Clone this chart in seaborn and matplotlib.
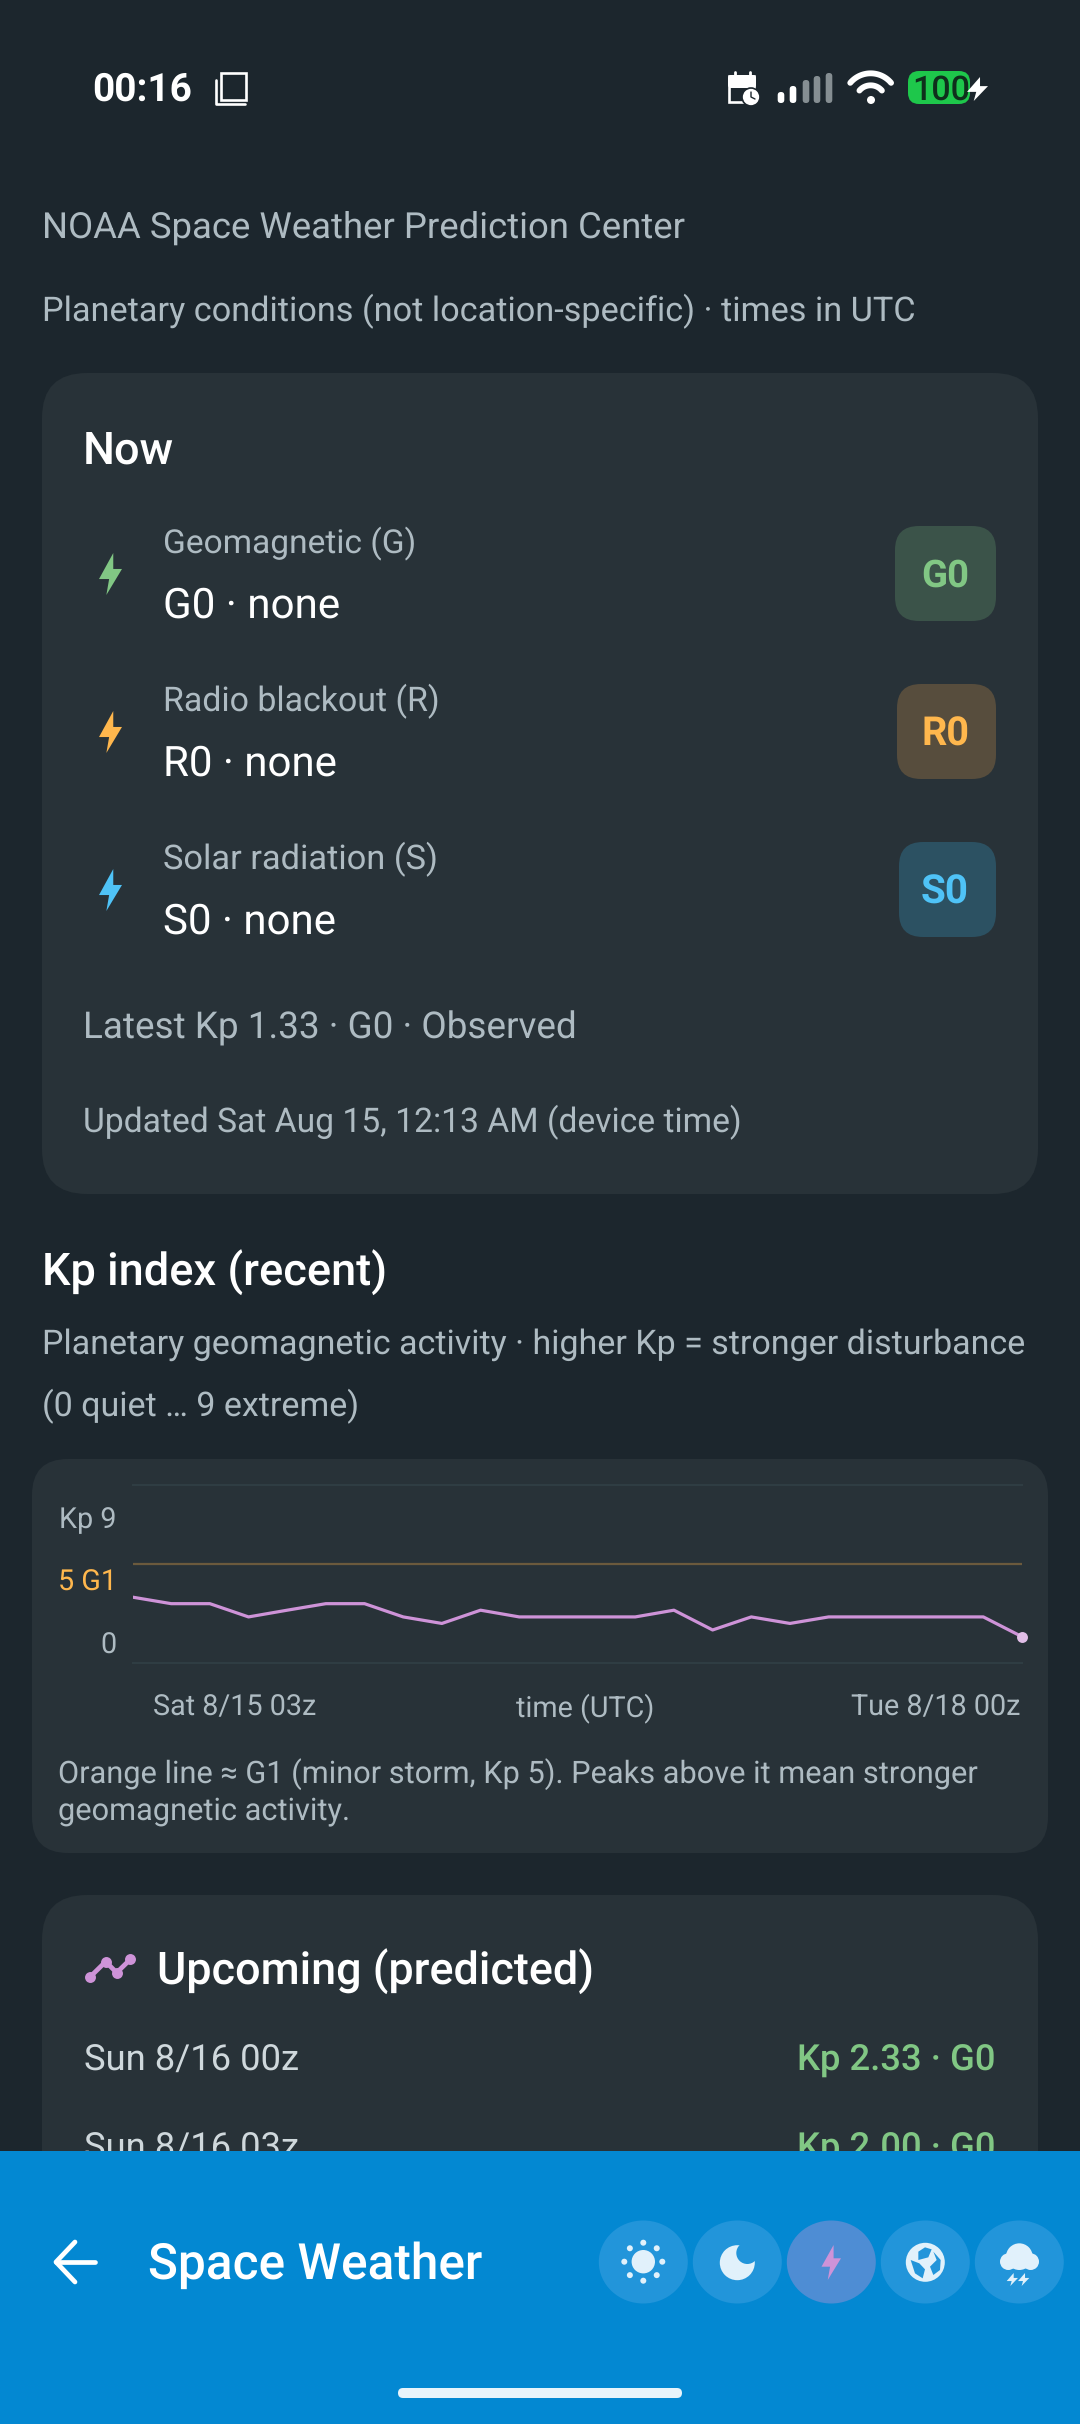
import numpy as np
import pandas as pd
import matplotlib
matplotlib.use("Agg")
import matplotlib.pyplot as plt
import matplotlib.dates as mdates
from matplotlib.patches import FancyBboxPatch, Circle, Ellipse, Polygon, Rectangle
import seaborn as sns

# ---- data ----
kp_times = ["2026-08-15 03:00", "2026-08-15 06:00", "2026-08-15 09:00", "2026-08-15 12:00",
            "2026-08-15 15:00", "2026-08-15 18:00", "2026-08-15 21:00", "2026-08-16 00:00",
            "2026-08-16 03:00", "2026-08-16 06:00", "2026-08-16 09:00", "2026-08-16 12:00",
            "2026-08-16 15:00", "2026-08-16 18:00", "2026-08-16 21:00", "2026-08-17 00:00",
            "2026-08-17 03:00", "2026-08-17 06:00", "2026-08-17 09:00", "2026-08-17 12:00",
            "2026-08-17 15:00", "2026-08-17 18:00", "2026-08-17 21:00", "2026-08-18 00:00"]
kp_values = [3.33, 3.00, 3.00, 2.33, 2.67, 3.00, 3.00, 2.33, 2.00, 2.67, 2.33, 2.33,
             2.33, 2.33, 2.67, 1.67, 2.33, 2.00, 2.33, 2.33, 2.33, 2.33, 2.33, 1.33]
g1_threshold = 5
y_tick_labels = ["0", "5 G1", "Kp 9"]
x_tick_labels = ["Sat 8/15 03z", "time (UTC)", "Tue 8/18 00z"]
scale_rows = ["Geomagnetic (G)", "Radio blackout (R)", "Solar radiation (S)"]
scale_values = ["G0 · none", "R0 · none", "S0 · none"]
scale_badges = ["G0", "R0", "S0"]
upcoming_times = ["Sun 8/16 00z", "Sun 8/16 03z"]
upcoming_values = ["Kp 2.33 · G0", "Kp 2.00 · G0"]

# ---- colours ----
BG = "#1c262d"; CARD = "#283238"; GRID = "#2f3d43"
SEC = "#aebbc2"; WHITE = "#ffffff"
GREEN = "#81c784"; ORANGE = "#ffb74d"; BLUE = "#4fc3f7"; PURPLE = "#ce93d8"
BAR = "#0388d2"; CHIP = "#2295da"; CHIP_ON = "#4e8dd4"; PALE = "#e1f1fb"

sns.set_theme(style="dark")
plt.rcParams["font.family"] = ["Roboto", "DejaVu Sans"]
plt.rcParams["text.hinting"] = "no_hinting"
plt.rcParams["text.hinting_factor"] = 8

fig = plt.figure(figsize=(10.8, 24.24), dpi=100, facecolor=BG)
ui = fig.add_axes([0, 0, 1, 1], zorder=1)
ui.set_xlim(0, 1080); ui.set_ylim(2424, 0); ui.axis("off")
renderer = fig.canvas.get_renderer()


def fit_px(s, width, weight="normal"):
    """Font size in pixels that makes s as wide as width when it is drawn."""
    pt = 24.0
    t = ui.text(0, 0, s, fontsize=pt, weight=weight)
    for _ in range(4):
        pt *= width / t.get_window_extent(renderer).width
        t.set_fontsize(pt)
    t.remove()
    return pt / 0.72


def T(xl, xr, yc, s, color=SEC, weight="normal", zorder=5):
    px = fit_px(s, xr - xl + 3, weight)
    ui.text(xl - 1, yc - 0.5 + 0.355 * px, s, color=color, fontsize=px * 0.72, weight=weight,
            ha="left", va="baseline", zorder=zorder)


def rrect(x0, y0, x1, y1, r, color, zorder=2):
    ui.add_patch(FancyBboxPatch((x0, y0), x1 - x0, y1 - y0, boxstyle=f"round,pad=0,rounding_size={r}",
                                fc=color, ec="none", zorder=zorder))


BOLT = np.array([(0.62, 0), (0, 0.62), (0.44, 0.62), (0.32, 1), (1, 0.38), (0.62, 0.38)])


def bolt(x0, y0, x1, y1, color, zorder=6):
    ui.add_patch(Polygon(BOLT * [x1 - x0, y1 - y0] + [x0, y0], closed=True, fc=color, ec="none", zorder=zorder))


# ---- status bar ----
T(93, 190, 87, "00:16", WHITE, "bold")
ui.add_patch(Rectangle((221, 73), 25, 27, fc="none", ec=WHITE, lw=1.9, zorder=5))
ui.plot([216, 216, 245], [80, 104, 104], color=WHITE, lw=1.9, zorder=5)

# calendar
rrect(728, 75, 756, 88, 3, WHITE, 5)
ui.add_patch(Rectangle((729, 76), 25, 26, fc="none", ec=WHITE, lw=1.9, zorder=5))
for xp in (735, 750):
    ui.plot([xp, xp], [72, 77], color=WHITE, lw=2.0, zorder=5)
ui.add_patch(Circle((751, 97), 9, fc=WHITE, ec=BG, lw=1.2, zorder=6))
ui.plot([751, 751, 755], [92, 97, 99], color=BG, lw=1.0, zorder=7)

# signal
for xc, top, col in zip((781, 793, 806, 817, 829), (92, 86, 80, 76, 73),
                        (WHITE, WHITE, "#858e92", "#858e92", "#858e92")):
    rrect(xc - 3.3, top, xc + 3.3, 103, 3.2, col, 5)

# wifi
for r in (80, 44):
    th = np.radians(np.linspace(40, 140, 40))
    ui.plot(710 + (482 + r * np.cos(th)) / 3, 60 + (120 - r * np.sin(th)) / 3, color=WHITE, lw=4.2,
            solid_capstyle="round", zorder=5)
ui.add_patch(Circle((871, 100), 4, fc=WHITE, ec="none", zorder=5))

# battery
rrect(908, 71, 970, 104, 11, "#1ec74b", 5)
T(913, 968, 88.5, "100", "#0f2f1c", 500, 6)
bolt(967, 77, 988, 101, WHITE)

# ---- header ----
T(43, 683, 225, "NOAA Space Weather Prediction Center")
T(43, 914, 310, "Planetary conditions (not location-specific) · times in UTC")

# ---- now card ----
rrect(42, 373, 1038, 1194, 45, CARD)
T(84, 172, 448, "Now", WHITE, 500)
row_colors = [GREEN, ORANGE, BLUE]
badge_fill = ["#3b5349", "#574d3d", "#2c5162"]
row_right = [414, 438, 436]
val_right = [338, 335, 334]
badge_left = [895, 897, 899]
for i, yo in enumerate((0, 158, 316)):
    T(164, row_right[i], 542 + yo, scale_rows[i])
    T(164, val_right[i], 603.5 + yo, scale_values[i], WHITE)
    bolt(99, 553 + yo, 122, 595 + yo, row_colors[i])
    rrect(badge_left[i], 526 + yo, 996, 621 + yo, 24, badge_fill[i], 3)
    T(922, 967, 574 + yo, scale_badges[i], row_colors[i], "bold")
T(84, 575, 1026, "Latest Kp 1.33 · G0 · Observed")
T(84, 740, 1121, "Updated Sat Aug 15, 12:13 AM (device time)")

# ---- Kp section ----
T(43, 385, 1270, "Kp index (recent)", WHITE, 500)
T(43, 1023, 1342, "Planetary geomagnetic activity · higher Kp = stronger disturbance")
T(43, 357, 1405, "(0 quiet … 9 extreme)")
rrect(32, 1459, 1048, 1853, 36, CARD)
T(59, 977, 1772, "Orange line ≈ G1 (minor storm, Kp 5). Peaks above it mean stronger")
T(59, 348, 1809, "geomagnetic activity.")

# ---- chart ----
ax = fig.add_axes([132.5 / 1080, 1 - 1663 / 2424, 889.5 / 1080, 178 / 2424], zorder=2)
ax.patch.set_alpha(0)
df = pd.DataFrame({"time": pd.to_datetime(kp_times), "kp": kp_values})
ax.axhline(g1_threshold, color="#6b5a3d", lw=1.6, zorder=1)
sns.lineplot(data=df, x="time", y="kp", ax=ax, color=PURPLE, linewidth=2.3, zorder=3, legend=False)
sns.scatterplot(data=df.iloc[[-1]], x="time", y="kp", ax=ax, color="#e1bee7", s=62, linewidth=0,
                zorder=4, clip_on=False, legend=False)
lo, hi = mdates.date2num(df["time"].iloc[0]), mdates.date2num(df["time"].iloc[-1])
ax.set_xlim(lo, hi); ax.set_ylim(0, 9)
ax.set_xlabel(""); ax.set_ylabel("")
ax.grid(False)
for side in ("left", "right"):
    ax.spines[side].set_visible(False)
for side in ("top", "bottom"):
    ax.spines[side].set_visible(True)
    ax.spines[side].set_color(GRID)
    ax.spines[side].set_linewidth(1.5)

tick_px = fit_px("Sat 8/15 03z", 163)
ax.set_xticks([lo + f * (hi - lo) for f in (0.1152, 0.5084, 0.9034)])
ax.set_xticklabels(x_tick_labels)
ax.set_yticks([1.0, 4.2, 7.38])
ax.set_yticklabels(y_tick_labels)
ax.tick_params(axis="x", length=0, pad=22, labelsize=tick_px * 0.72, labelcolor=SEC)
ax.tick_params(axis="y", length=0, pad=11.5, labelsize=tick_px * 0.72, labelcolor=SEC)
ax.get_yticklabels()[1].set_color(ORANGE)

# ---- upcoming card ----
rrect(42, 1895, 1038, 2300, 45, CARD)
icon_x = 75 + np.array([45, 92, 125, 166]) / 3
icon_y = 1940 + np.array([111, 65, 98, 58]) / 3
ui.plot(icon_x, icon_y, color=PURPLE, lw=3.4, zorder=5)
ui.scatter(icon_x, icon_y, color=PURPLE, s=62, linewidth=0, zorder=5)
T(158, 592, 1969.5, "Upcoming (predicted)", WHITE, 500)
for i, yy in enumerate((2058, 2146.5)):
    T(85, 297, yy, upcoming_times[i], "#cfd8dc")
    T(798, 994, yy, upcoming_values[i], GREEN, 500)

# ---- bottom bar ----
ui.add_patch(Rectangle((0, 2151), 1080, 273, fc=BAR, ec="none", zorder=10))
ui.plot([75, 56, 75], [2242, 2262, 2282], color=WHITE, lw=3.4, zorder=11)
ui.plot([56, 95], [2262, 2262], color=WHITE, lw=3.4, zorder=11)
T(149, 480, 2262, "Space Weather", WHITE, 500, 11)
chips = [643.3, 737.3, 831.3, 925.3, 1019.3]
for i, cx in enumerate(chips):
    ui.add_patch(Ellipse((cx, 2262), 89, 83, fc=CHIP_ON if i == 2 else CHIP, ec="none", zorder=11))

# sun
sx, sy = chips[0], 2261.7
ui.add_patch(Circle((sx, sy), 11.7, fc=PALE, ec="none", zorder=12))
for a in np.arange(8) * np.pi / 4:
    ui.add_patch(Circle((sx + 19 * np.cos(a), sy + 19 * np.sin(a)), 3, fc=PALE, ec="none", zorder=12))
# moon
ui.add_patch(Circle((chips[1], 2262.7), 17.5, fc=PALE, ec="none", zorder=12))
ui.add_patch(Circle((chips[1] + 10, 2253), 11, fc=CHIP, ec="none", zorder=13))
# bolt
bolt(821.5, 2245, 841, 2280, PURPLE, 12)
# globe
gx, gy = chips[3], 2262.3
ui.add_patch(Circle((gx, gy), 19.5, fc=PALE, ec="none", zorder=12))
for pts in ([(932, 150), (958, 160), (975, 178), (968, 205), (945, 190)],
            [(955, 150), (985, 142), (995, 118), (975, 112), (955, 125)],
            [(1000, 125), (1022, 150), (1020, 180), (1000, 195), (990, 170), (1010, 150)]):
    ui.add_patch(Polygon(np.array(pts) / 3 + [600, 2210], closed=True, fc=CHIP, ec="none", zorder=13))
# cloud
for zx, zy, zr in ((1258, 140, 40), (1225, 155, 25), (1292, 155, 25)):
    ui.add_patch(Circle((600 + zx / 3, 2210 + zy / 3), zr / 3, fc=PALE, ec="none", zorder=12))
for bx in (1236, 1270):
    bolt(600 + (bx - 16) / 3, 2210 + 189 / 3, 600 + (bx + 18) / 3, 2210 + 228 / 3, PALE, 12)
# home indicator
rrect(398, 2388, 682, 2398, 5, "#e8f4fb", 12)

fig.savefig("out.png", dpi=100, facecolor=BG)
